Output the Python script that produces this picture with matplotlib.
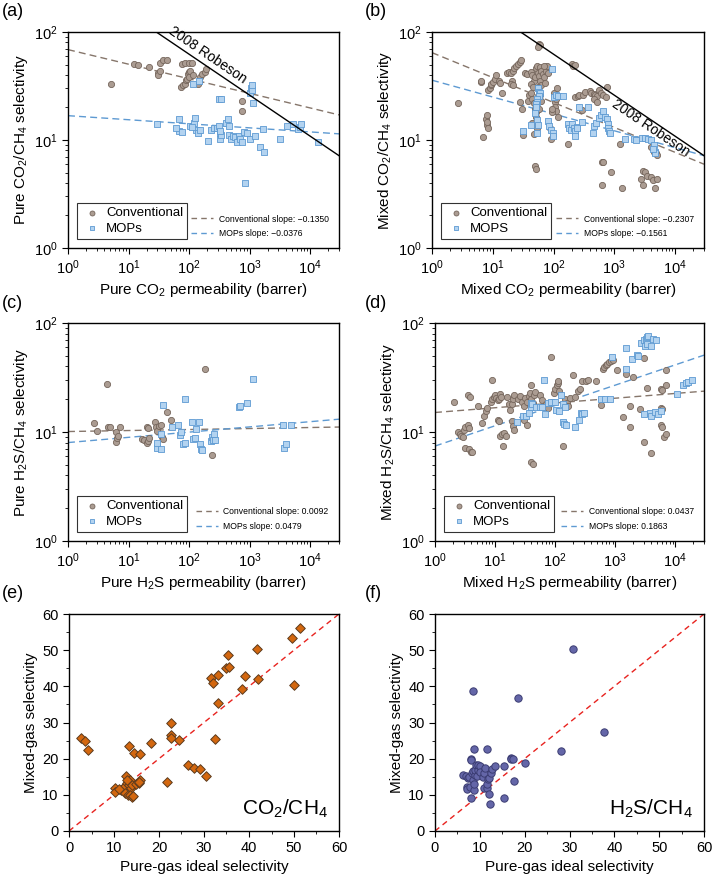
import math
import matplotlib
matplotlib.use("Agg")
import matplotlib.pyplot as plt
from matplotlib.lines import Line2D
from matplotlib.ticker import LogLocator, MultipleLocator, NullFormatter

plt.rcParams['font.family'] = ['Liberation Sans', 'DejaVu Sans']
plt.rcParams['mathtext.fontset'] = 'custom'
plt.rcParams['mathtext.rm'] = 'Liberation Sans'
plt.rcParams['mathtext.it'] = 'Liberation Sans:italic'
plt.rcParams['font.size'] = 10

# ---- data (permeability in barrer, selectivity) ----
a_conv = [(5.2, 33.3), (12.3, 50.3), (14.5, 49.4), (21.7, 47.5), (30.2, 41.8), (30.5, 39.8),
          (32.6, 52), (37, 55.5), (43, 54.7), (33, 44), (77, 51), (87, 52), (101, 52), (110, 52),
          (95, 41), (100, 43), (105, 44), (75, 31), (80, 32), (85, 33), (88, 36), (92, 37),
          (98, 38), (115, 40), (140, 33), (150, 38), (165, 41), (180, 43), (190, 45),
          (755, 23), (740, 18.5)]
a_mops = [(118, 33), (145, 35), (1000, 27), (1050, 30), (1100, 29), (1150, 22), (1080, 32),
          (310, 24), (340, 24), (30, 14.0), (67, 15.7), (67, 12.0), (60, 12.9), (76, 11.8),
          (105, 13.5), (120, 14.5), (125, 16), (130, 12.5), (140, 11.5), (150, 12.5), (110, 13.2),
          (205, 9.8), (230, 12.5), (260, 13), (285, 12.8), (310, 13.5), (320, 11.5), (330, 10.3),
          (340, 11.2), (325, 12.2), (410, 14.5), (440, 15.5), (460, 13.5), (460, 11.2), (500, 10.3),
          (540, 11), (570, 10.6), (620, 9.5), (660, 10.8), (700, 10.2), (760, 9.6), (800, 11.8),
          (900, 11.5), (1000, 10.3), (1220, 11), (1500, 8.6), (1700, 7.8), (1650, 12.7), (850, 4.0),
          (3200, 10.2), (4100, 13.5), (5200, 14), (6200, 12.7), (6700, 13.2), (7000, 14), (13700, 9.6)]

b_conv = [(2.65, 22.1), (6.3, 34.5), (6.5, 35.3), (6.9, 10.6), (7.7, 15.8), (8.0, 17.1), (8.1, 13.8),
          (8.4, 12.8), (7.9, 14.7), (8.4, 29), (8.9, 30.6), (9.2, 32), (9.5, 33.3), (10, 34.5),
          (10.7, 37), (11.5, 40), (12.5, 35), (13, 34), (14.2, 27.3), (17, 42), (18.5, 43), (20, 42),
          (21.5, 44), (22.5, 46), (24, 48), (21, 35), (20, 33), (21.5, 32), (26, 51), (28, 53),
          (29.5, 55), (28, 22.6), (30, 19.2), (31.5, 11.1), (34, 42), (36, 41), (38, 23), (39, 26),
          (42, 43), (44, 40), (47, 35), (43, 33), (46, 31), (50, 38), (51, 46), (53, 48), (55, 42),
          (58, 39), (60, 35), (63, 32), (56, 31), (59, 47), (62, 44), (66, 41), (70, 38), (73, 34),
          (75, 44), (78, 48), (81, 42), (71, 48), (42, 27), (45, 24), (48, 22), (50, 19.5), (51, 18),
          (52, 16.5), (54, 19), (57, 19.5), (60, 26), (63, 23), (44, 14.5), (48, 11.3), (53, 13),
          (49, 5.7), (52, 5.4), (57, 78), (60, 76), (56, 73), (100, 27), (106, 22.5), (110, 24),
          (106, 20), (112, 18.5), (120, 16.3), (88, 12.8), (96, 18), (93, 19.5), (115, 30), (92, 10.3),
          (173, 9.1), (200, 51), (210, 48), (230, 49), (230, 25), (250, 25.5), (265, 26), (310, 26),
          (330, 28), (300, 19), (400, 28.5), (420, 27), (460, 26.5), (480, 26), (520, 25.5),
          (560, 29), (600, 27), (660, 26), (720, 25), (770, 31), (470, 24), (520, 22.5),
          (640, 6.3), (660, 6.2), (640, 3.85), (880, 5.1), (1230, 9.1), (1340, 3.6), (2770, 4.4),
          (3000, 5.2), (3150, 5.1), (3000, 3.8), (3400, 4.6), (4100, 8.7), (4500, 7.8), (4800, 7.5),
          (4100, 4.5), (4400, 4.3), (4700, 3.6), (5100, 4.4), (5000, 7.2)]
b_mops = [(96, 45), (55, 30), (58, 28), (60, 27), (57, 25.5), (54, 24), (53, 22.5), (52, 21.5),
          (51, 20), (49, 17.6), (53, 15.3), (55, 13.7), (54, 11.5), (31, 12), (43, 13.7), (80, 15),
          (85, 13.5), (92, 12.5), (97, 11.5), (98, 10.8), (100, 25), (110, 26), (118, 25.5),
          (145, 25.5), (175, 14), (180, 13), (195, 12.5), (205, 14), (215, 13), (230, 12),
          (245, 13.2), (240, 12.8), (225, 11), (260, 20), (370, 20), (300, 14.6), (440, 11.5),
          (470, 13.5), (500, 14.5), (570, 16), (610, 17), (650, 18.5), (700, 16.5), (750, 15.5),
          (790, 14), (800, 13), (830, 12), (850, 11.5), (1500, 10.3), (2150, 10.3), (2300, 10),
          (2900, 10.5), (3200, 10.5), (3600, 10.2), (4000, 10), (4500, 9), (4600, 7.8), (4700, 7.5),
          (4300, 8.2)]

c_conv = [(2.7, 12), (3.0, 10.3), (4.4, 27.7), (4.5, 11), (5.0, 11), (6.1, 9.9), (6.3, 8.1),
          (6.5, 8.8), (6.8, 9.1), (7.1, 11.2), (17, 8.7), (18, 8.5), (20, 8.0), (21, 8.2), (22, 8.8),
          (20, 11), (21, 10.8), (27, 12.4), (28, 11.2), (30, 10.2), (32, 11.4), (34, 11.5), (36, 9.0),
          (37, 8.6), (44, 15.3), (50, 13), (180, 37.5), (240, 6.2), (260, 8.4)]
c_mops = [(37, 17.6), (85, 20), (34, 9.5), (29, 7.2), (30, 8), (34, 7.0), (52, 11), (66, 11.6),
          (72, 9.3), (75, 10), (78, 7.7), (85, 7.9), (110, 12.3), (145, 12.3), (115, 8.6), (125, 8.8),
          (128, 10.6), (150, 7.8), (160, 7.0), (165, 6.9), (230, 8.3), (240, 9), (250, 8.5),
          (260, 9.5), (270, 8.5), (670, 17), (690, 17.5), (900, 18.3), (1150, 30.5), (3600, 11.7),
          (4900, 11.5), (3700, 7.2), (4000, 7.8)]

d_conv = [(2.1, 18.9), (2.4, 10), (2.6, 9.6), (2.7, 9.2), (2.9, 9.0), (3.0, 10.4), (3.1, 11),
          (3.6, 22), (3.8, 21), (3.5, 11.5), (3.7, 10.8), (3.1, 7.1), (3.7, 7.0), (4.0, 6.6),
          (4.2, 6.5), (5.1, 17.3), (6.0, 12), (6.5, 14), (7.0, 15.5), (7.2, 16.5), (8.8, 30),
          (8.5, 19), (9.0, 20), (9.7, 21), (10, 22), (10.5, 20.5), (11, 19.5), (11.5, 20), (12, 22.5),
          (12.5, 21), (11, 13), (11.5, 12.6), (12, 9.2), (13, 9.5), (14, 9.8), (15, 9.2), (13.7, 7.4),
          (16, 21), (17, 18), (18, 16), (19, 18), (20, 20), (21, 22), (19, 12.5), (20, 11.3),
          (21, 10.5), (24, 20), (26, 21.5), (28, 19), (30, 17.5), (32, 20.5), (34, 19), (36, 21.5),
          (38, 23), (40, 20), (42, 18.5), (44, 22), (46, 23.5), (30, 13), (32, 14), (34, 11.5),
          (40, 27), (39, 5.3), (42, 5.1), (55, 22), (60, 19.5), (65, 17), (70, 18), (75, 16.5),
          (86, 48.6), (90, 19), (95, 23), (100, 25), (108, 27), (112, 28), (115, 24), (112, 29.5),
          (135, 7.4), (145, 20), (155, 18.5), (165, 17.5), (175, 20.5), (200, 33.5), (210, 21),
          (240, 24), (260, 25), (285, 29.5), (320, 29.5), (350, 30), (485, 29.5), (590, 17.7),
          (630, 38), (660, 39.5), (700, 41), (740, 42), (780, 44), (850, 45), (930, 46), (1070, 37),
          (1350, 13.8), (1500, 34), (1750, 17.2), (1750, 11.1), (2000, 32), (2600, 16.2), (3000, 8.1),
          (3000, 47.6), (3400, 25.5), (4000, 6.4), (5800, 25), (6000, 24.5), (5700, 16.7),
          (5900, 16.2), (5800, 11.5), (6100, 11), (6500, 9), (6900, 9.5), (6900, 27), (7100, 37)]
d_mops = [(64, 30), (23.5, 12.4), (29, 14), (33, 14), (37, 15), (39, 17), (40, 18.5), (41, 18),
          (48, 17), (55, 17), (60, 17), (68, 14.5), (75, 18.5), (85, 19), (100, 19), (105, 16),
          (115, 15.5), (125, 22), (135, 18), (145, 17), (135, 12.3), (140, 11.8), (150, 11.5),
          (215, 11.2), (250, 13), (270, 15), (285, 14.5), (300, 15), (590, 20), (680, 20), (820, 20),
          (870, 48.6), (1500, 38), (1530, 58.8), (1900, 47), (2300, 51), (2400, 50), (2700, 66),
          (3000, 70), (3200, 72), (3400, 74), (3500, 76), (3100, 61), (3400, 64), (3900, 62),
          (4200, 72), (4800, 70), (3000, 14.5), (3800, 15), (4000, 14), (4600, 15.2), (5200, 14.5),
          (5800, 15.5), (10500, 22.3), (13300, 27), (15000, 28), (16500, 29), (18700, 30)]

# power-law fits: (selectivity at 1 barrer, slope)
a_fits = [(68.7, -0.1350), (16.8, -0.0376)]
b_fits = [(64.4, -0.2307), (35.8, -0.1561)]
c_fits = [(10.1, 0.0092), (8.0, 0.0479)]
d_fits = [(15.1, 0.0437), (7.43, 0.1863)]

# 2008 Robeson upper bound CO2/CH4 (end points)
robeson_p = [30, 30000]
robeson_s = [98.4, 7.16]

# pure-gas ideal vs mixed-gas selectivity
e_pts = [(2.7, 25.8), (3.5, 24.8), (4.2, 22.5), (13.3, 23.5), (14.5, 21.7), (15.8, 21.4),
         (18.3, 24.4), (22.6, 30.0), (22.6, 26.5), (22.6, 25.7), (24.4, 25.2), (21.8, 13.6),
         (26.5, 18.3), (27.8, 17.5), (29.2, 17.1), (30.5, 15.2), (32.4, 25.4), (31.5, 42.2),
         (32.0, 40.8), (33.2, 43.1), (33.2, 35.5), (35.0, 45.2), (35.5, 45.3), (35.4, 48.7),
         (38.4, 39.4), (39.2, 42.8), (41.8, 50.4), (42.0, 42.1), (49.6, 53.3), (51.3, 56.0),
         (49.9, 40.3), (10.2, 11.8), (10.3, 10.7), (11.5, 11.3), (12.0, 11.8), (12.3, 12.3),
         (12.6, 15.3), (12.9, 13.4), (12.5, 10.5), (13.1, 9.9), (13.3, 12.8), (13.6, 14.0),
         (13.8, 11.8), (13.5, 10.0), (14.0, 9.5), (14.2, 9.8), (14.0, 12.7), (14.8, 13.1),
         (15.5, 13.3), (15.8, 14.0), (15.6, 13.6), (13.0, 14.2), (11.0, 11.5)]
f_pts = [(6.2, 15.4), (7.0, 15.2), (7.3, 14.6), (7.5, 15.0), (7.2, 12.3), (7.2, 11.7), (7.7, 12.2),
         (8.0, 19.8), (8.1, 19.6), (8.0, 9.0), (8.3, 15.9), (8.4, 38.6), (8.4, 16.6), (8.5, 14.0),
         (8.6, 11.3), (8.7, 13.0), (8.8, 22.7), (8.9, 15.5), (9.0, 16.8), (9.2, 18.2), (9.4, 15.2),
         (9.5, 17.0), (9.7, 18.2), (10.0, 18.0), (10.1, 16.3), (10.7, 15.0), (10.9, 12.0),
         (11.0, 15.9), (11.2, 17.5), (11.5, 11.8), (11.6, 22.8), (11.7, 13.0), (11.9, 14.5),
         (12.0, 10.2), (12.1, 14.6), (12.3, 7.4), (12.6, 16.0), (12.7, 17.2), (13.4, 17.9),
         (15.4, 9.1), (15.5, 18.0), (16.9, 20.3), (17.0, 19.8), (17.3, 20.0), (17.7, 13.8),
         (18.5, 36.7), (20.0, 18.8), (28.0, 22.0), (30.8, 50.2), (37.6, 27.4)]

CONV_FC, CONV_EC = '#ab9c92', '#75665c'
MOPS_FC, MOPS_EC = '#b3d3f0', '#5e9ad2'
CONV_LINE, MOPS_LINE = '#86766b', '#5e9ad2'

fig = plt.figure(figsize=(7.13, 8.74), dpi=100)
W, H = 713.0, 874.0


def add_ax(l, t, r, b):
    return fig.add_axes([l / W, 1 - b / H, (r - l) / W, (b - t) / H])


def style(ax):
    ax.tick_params(which='both', direction='out', top=False, right=False, labelsize=10.5)
    ax.tick_params(which='major', length=4, width=0.8)
    ax.tick_params(which='minor', length=2, width=0.6)
    for s in ax.spines.values():
        s.set_linewidth(1.0)


def fmt(v):
    return ('%.4f' % v).replace('-', '\u2212')


def log_panel(ax, conv, mops, fits, xlabel, ylabel, legend2, robeson=None):
    cx, cy = zip(*conv)
    mx, my = zip(*mops)
    ax.set_xscale('log')
    ax.set_yscale('log')
    ax.set_xlim(1, 3e4)
    ax.set_ylim(1, 100)
    xs = [1, 3e4]
    (ca, cs), (ma, ms) = fits
    ax.plot(xs, [ca * x ** cs for x in xs], color=CONV_LINE, lw=1.0, dashes=(5, 3), zorder=2)
    ax.plot(xs, [ma * x ** ms for x in xs], color=MOPS_LINE, lw=1.0, dashes=(5, 3), zorder=2)
    ax.scatter(cx, cy, s=20, marker='o', fc=CONV_FC, ec=CONV_EC, lw=0.6, zorder=3,
               label='Conventional')
    ax.scatter(mx, my, s=17, marker='s', fc=MOPS_FC, ec=MOPS_EC, lw=0.6, zorder=4,
               label=legend2)
    if robeson is not None:
        ax.plot(robeson_p, robeson_s, color='black', lw=1.0, zorder=5)
        p0 = ax.transData.transform((robeson_p[0], robeson_s[0]))
        p1 = ax.transData.transform((robeson_p[1], robeson_s[1]))
        ang = math.degrees(math.atan2(p1[1] - p0[1], p1[0] - p0[0]))
        ax.text(robeson[0], robeson[1], '2008 Robeson', rotation=ang, rotation_mode='anchor',
                ha='center', va='center', fontsize=10, zorder=6)
    ax.xaxis.set_major_locator(LogLocator(base=10, numticks=10))
    ax.xaxis.set_minor_locator(LogLocator(base=10, subs=range(2, 10), numticks=10))
    ax.xaxis.set_minor_formatter(NullFormatter())
    ax.yaxis.set_minor_locator(LogLocator(base=10, subs=range(2, 10), numticks=10))
    ax.yaxis.set_minor_formatter(NullFormatter())
    ax.set_xlabel(xlabel, fontsize=11, labelpad=3)
    ax.set_ylabel(ylabel, fontsize=11, labelpad=3)
    style(ax)
    leg1 = ax.legend(loc='lower left', fontsize=9.5, frameon=True, fancybox=False,
                     edgecolor='black', borderaxespad=0.7, handletextpad=0.3,
                     handlelength=1.6, borderpad=0.3, labelspacing=0.25, scatterpoints=1,
                     markerscale=0.8)
    leg1.get_frame().set_linewidth(0.8)
    ax.add_artist(leg1)
    h = [Line2D([], [], color=CONV_LINE, lw=1.0, dashes=(4, 3)),
         Line2D([], [], color=MOPS_LINE, lw=1.0, dashes=(4, 3))]
    labs = ['Conventional slope: %s' % fmt(fits[0][1]), 'MOPs slope: %s' % fmt(fits[1][1])]
    ax.legend(h, labs, loc='lower right', fontsize=6.2, frameon=False, handlelength=2.6,
              handletextpad=0.6, labelspacing=0.6, borderaxespad=0.8)


def lin_panel(ax, pts, marker, fc, ec, label):
    x, y = zip(*pts)
    ax.set_xlim(0, 60)
    ax.set_ylim(0, 60)
    ax.plot([0, 60], [0, 60], color='#e8231f', lw=1.0, dashes=(4, 3), zorder=2)
    ax.scatter(x, y, s=24 if marker == 'D' else 28, marker=marker, fc=fc, ec=ec, lw=0.7, zorder=3)
    ax.xaxis.set_major_locator(MultipleLocator(10))
    ax.yaxis.set_major_locator(MultipleLocator(10))
    ax.xaxis.set_minor_locator(MultipleLocator(5))
    ax.yaxis.set_minor_locator(MultipleLocator(5))
    ax.set_xlabel('Pure-gas ideal selectivity', fontsize=11, labelpad=3)
    ax.set_ylabel('Mixed-gas selectivity', fontsize=11, labelpad=3)
    ax.text(0.96, 0.05, label, transform=ax.transAxes, ha='right', va='bottom', fontsize=15)
    style(ax)


ax_a = add_ax(68, 32, 339, 248)
ax_b = add_ax(432, 32, 704, 248)
ax_c = add_ax(68, 323, 339, 541)
ax_d = add_ax(435, 323, 704, 541)
ax_e = add_ax(69, 614, 339, 831)
ax_f = add_ax(435, 614, 704, 831)

log_panel(ax_a, a_conv, a_mops, a_fits, 'Pure CO$_2$ permeability (barrer)',
          'Pure CO$_2$/CH$_4$ selectivity', 'MOPs', robeson=(205, 61))
log_panel(ax_b, b_conv, b_mops, b_fits, 'Mixed CO$_2$ permeability (barrer)',
          'Mixed CO$_2$/CH$_4$ selectivity', 'MOPS', robeson=(4000, 12.9))
log_panel(ax_c, c_conv, c_mops, c_fits, 'Pure H$_2$S permeability (barrer)',
          'Pure H$_2$S/CH$_4$ selectivity', 'MOPs')
log_panel(ax_d, d_conv, d_mops, d_fits, 'Mixed H$_2$S permeability (barrer)',
          'Mixed H$_2$S/CH$_4$ selectivity', 'MOPs')
lin_panel(ax_e, e_pts, 'D', '#d3670f', '#5c3b1e', 'CO$_2$/CH$_4$')
lin_panel(ax_f, f_pts, 'o', '#6466a8', '#3b3c72', 'H$_2$S/CH$_4$')

for lab, x, y in [('(a)', 2, 12), ('(b)', 365, 12), ('(c)', 2, 303), ('(d)', 365, 303),
                  ('(e)', 2, 593), ('(f)', 365, 593)]:
    fig.text(x / W, 1 - y / H, lab, fontsize=13, ha='left', va='center')

fig.savefig('out.png', dpi=100)
